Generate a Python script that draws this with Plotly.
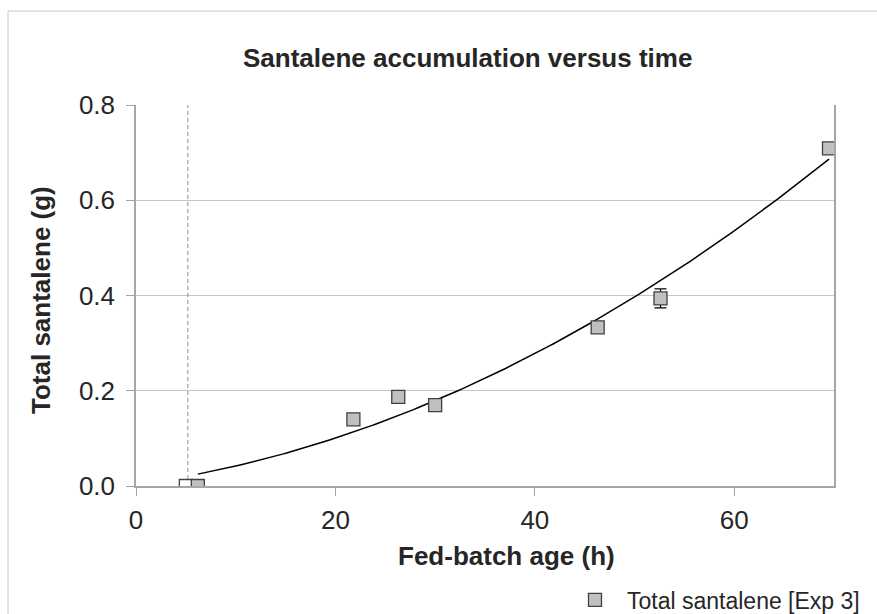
import numpy as np
import plotly.graph_objects as go

# ---- data ----
age_h = [6.2, 21.8, 26.3, 30.0, 46.3, 52.6, 69.5]
santalene_g = [0.0, 0.14, 0.187, 0.17, 0.333, 0.394, 0.709]
santalene_err = [0.0, 0.0, 0.0, 0.0, 0.0, 0.02, 0.0]
start_age_h = [5.0]
start_santalene_g = [0.0]
feed_start_h = 5.2
series_name = "Total santalene [Exp 3]"
x_ticks = [0, 20, 40, 60]
y_ticks = [0.0, 0.2, 0.4, 0.6, 0.8]

# Excel-style 2nd-order polynomial trendline over the series
coef = np.polyfit(age_h, santalene_g, 2)
trend_x = np.linspace(min(age_h), max(age_h), 200)
trend_y = np.polyval(coef, trend_x)

W, H = 877, 614
L, R, T, B = 136, 43, 105, 128
pw, ph = W - L - R, H - T - B


def px(xp):
    return (xp - L) / pw


def py(yp):
    return (H - B - yp) / ph


FONT = "Liberation Sans, Arial, sans-serif"
TXT = "#262626"
AXC = "#a6a6a6"

fig = go.Figure()

fig.add_trace(go.Scatter(
    x=[feed_start_h, feed_start_h], y=[y_ticks[0], y_ticks[-1]],
    mode="lines", line=dict(color="#8c8c8c", width=1, dash="4px,3px"),
    showlegend=False, hoverinfo="skip"))

fig.add_trace(go.Scatter(
    x=start_age_h, y=start_santalene_g, mode="markers",
    marker=dict(symbol="square", size=13, color="white",
                line=dict(color="#404040", width=1.3)),
    showlegend=False))

fig.add_trace(go.Scatter(
    x=trend_x, y=trend_y, mode="lines",
    line=dict(color="black", width=1.5), showlegend=False, hoverinfo="skip"))

fig.add_trace(go.Scatter(
    x=age_h, y=santalene_g, mode="markers", name=series_name,
    marker=dict(symbol="square", size=13, color="#c0c0c0",
                line=dict(color="#404040", width=1.3)),
    error_y=dict(type="data", array=santalene_err, color="black",
                 thickness=1.2, width=6),
    showlegend=True))

fig.update_layout(
    width=W, height=H,
    margin=dict(l=L, r=R, t=T, b=B, pad=0, autoexpand=False),
    paper_bgcolor="white", plot_bgcolor="white",
    font=dict(family=FONT, color=TXT, size=26),
    showlegend=True,
    legend=dict(x=px(563), xanchor="left", y=py(600), yanchor="middle",
                font=dict(size=23, color=TXT), bgcolor="rgba(0,0,0,0)",
                borderwidth=0, itemwidth=54),
    xaxis=dict(range=[0, 70], tickvals=x_ticks, showgrid=False, zeroline=False,
               showline=True, linecolor=AXC, linewidth=1.5,
               ticks="outside", ticklen=8, tickcolor=AXC, tickwidth=1,
               tickfont=dict(size=26, color=TXT), ticklabelstandoff=2),
    yaxis=dict(range=[0, 0.8], tickvals=y_ticks, tickformat=".1f",
               showgrid=True, gridcolor="#c6c6c6", gridwidth=1, zeroline=False,
               showline=True, linecolor=AXC, linewidth=1.5, mirror=True,
               ticks="outside", ticklen=8, tickcolor=AXC, tickwidth=1,
               tickfont=dict(size=26, color=TXT), ticklabelstandoff=6),
    shapes=[dict(type="rect", xref="paper", yref="paper",
                 x0=px(8), x1=px(W + 5), y0=py(H + 5), y1=py(11),
                 line=dict(color="#c8c8c8", width=1), fillcolor="rgba(0,0,0,0)",
                 layer="below")],
    annotations=[
        dict(text="Santalene accumulation versus time", xref="paper", yref="paper",
             x=px(467), y=py(58), xanchor="center", yanchor="middle",
             showarrow=False, font=dict(size=26, weight="bold", color=TXT)),
        dict(text="Fed-batch age (h)", xref="paper", yref="paper",
             x=px(506), y=py(556), xanchor="center", yanchor="middle",
             showarrow=False, font=dict(size=26, weight="bold", color=TXT)),
        dict(text="Total santalene (g)", xref="paper", yref="paper",
             x=px(41), y=py(300), xanchor="center", yanchor="middle",
             textangle=-90, showarrow=False,
             font=dict(size=26, weight="bold", color=TXT)),
    ],
)

fig.write_html("out.html",
               config={"displayModeBar": False},
               post_script="document.body.style.margin='0';"
                           "document.body.style.overflow='hidden';")
